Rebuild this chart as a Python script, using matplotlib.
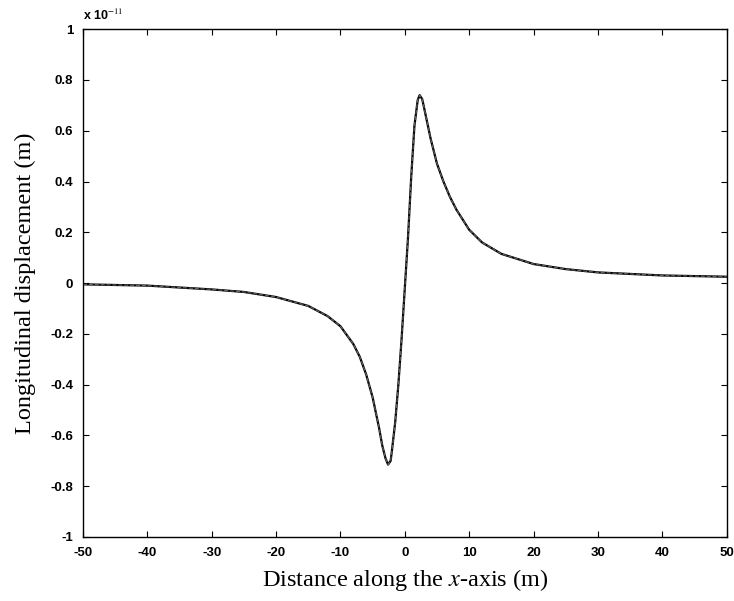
import numpy as np
import matplotlib.pyplot as plt
from matplotlib.ticker import FuncFormatter

plt.rcParams["mathtext.fontset"] = "stix"
plt.rcParams["axes.unicode_minus"] = False

# curve, displacement in units of 1e-11 m
x = [-50, -40, -30, -25, -20, -15, -12, -10, -8, -7, -6, -5, -4, -3.5, -3, -2.6, -2.2, -2, -1.5, -1, -0.5,
     0, 0.5, 1, 1.5, 2, 2.3, 2.7, 3, 3.5, 4, 5, 6, 7, 8, 10, 12, 15, 20, 25, 30, 40, 50]
u = [-0.005, -0.01, -0.025, -0.035, -0.055, -0.09, -0.13, -0.17, -0.24, -0.29, -0.36, -0.45, -0.57, -0.64, -0.69, -0.715, -0.70,
     -0.66, -0.55, -0.40, -0.22, -0.02, 0.18, 0.42, 0.62, 0.72, 0.74, 0.725, 0.69, 0.63, 0.57, 0.47, 0.40, 0.34, 0.29, 0.21, 0.16, 0.115, 0.075, 0.055, 0.042, 0.03, 0.025]

xticks = np.arange(-50, 51, 10)
yticks = np.arange(-1, 1.01, 0.2)

def main():
	fig = plt.figure(figsize=(7.34, 6.01), dpi=100)
	ax = fig.add_axes([0.113, 0.1065, 0.877, 0.845])
	ax.plot(x, u, color="black", lw=1.6)
	ax.plot(x, u, color="0.4", lw=0.8, ls="--")
	ax.set_xlim(-50, 50)
	ax.set_ylim(-1, 1)
	ax.set_xticks(xticks)
	ax.set_yticks(yticks)
	ax.yaxis.set_major_formatter(FuncFormatter(lambda v, p: "%g" % (round(v, 1) + 0.0)))
	ax.tick_params(direction="in", top=True, right=True, length=4, width=0.8,
		labelsize=9.5, pad=7)
	for lab in ax.get_xticklabels() + ax.get_yticklabels():
		lab.set_fontfamily("Liberation Sans")
		lab.set_fontweight("bold")
	for s in ax.spines.values():
		s.set_linewidth(1.0)
	ax.text(0.0, 1.012, r"x 10$^{-11}$", transform=ax.transAxes, fontsize=9,
		fontfamily="Liberation Sans", fontweight="bold", ha="left", va="bottom")
	ax.set_xlabel(r"Distance along the $x$-axis (m)", fontsize=17.5, fontfamily="Liberation Serif", labelpad=6)
	ax.set_ylabel("Longitudinal displacement (m)", fontsize=17.5, fontfamily="Liberation Serif", labelpad=10)
	fig.savefig("out.png", dpi=100)
	plt.close()

if __name__ == "__main__":
	main()
